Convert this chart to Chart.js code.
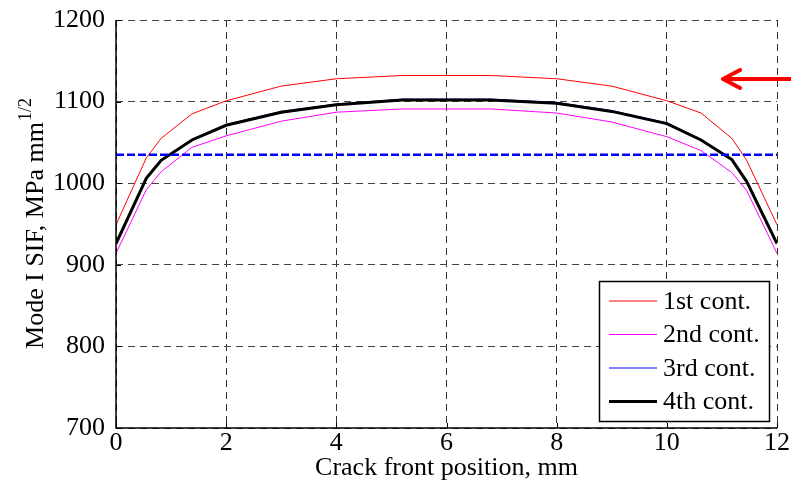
<!DOCTYPE html>
<html>
<head>
<meta charset="utf-8">
<script src="https://cdn.jsdelivr.net/npm/chart.js@4.4.1/dist/chart.umd.min.js"></script>
<style>
  html, body { margin: 0; padding: 0; background: #fff; }
  #wrap { width: 791px; height: 492px; }
</style>
</head>
<body>
<div id="wrap"><canvas id="chart" width="791" height="492"></canvas></div>
<script>
// crack front node positions, mm
const positions = [0, 0.55, 0.82, 1.38, 2, 3, 4, 5.2, 6, 6.8, 8, 9, 10, 10.62, 11.18, 11.45, 12];
// Mode I SIF for each contour, MPa mm^1/2
const cont1 = [949, 1031, 1055, 1085, 1101, 1119, 1128, 1132, 1132, 1132, 1128, 1119, 1101, 1086, 1055, 1028, 949];
const cont2 = [914, 992, 1014, 1044, 1058, 1076, 1087, 1091, 1091, 1091, 1086, 1075, 1057, 1040, 1013, 991, 914];
const cont3 = [926, 1006, 1028, 1054, 1072, 1088, 1097, 1103, 1103, 1103, 1099, 1089, 1074, 1054, 1029, 1002, 926];
const cont4 = [926, 1006, 1028, 1053, 1071, 1087, 1096, 1102, 1102, 1102, 1098, 1088, 1073, 1053, 1029, 1002, 926];
const refLevel = 1035;
const xTicks = [0, 2, 4, 6, 8, 10, 12];
const yTicks = [700, 800, 900, 1000, 1100, 1200];
const seriesNames = ['1st cont.', '2nd cont.', '3rd cont.', '4th cont.'];

const serif = "'Liberation Serif', 'Times New Roman', serif";
const pts = ys => positions.map((x, i) => ({ x: x, y: ys[i] }));

// solid axes, inward ticks, y title (with superscript), legend box and the red arrow
const extras = {
  id: 'extras',
  afterDraw(chart) {
    const ctx = chart.ctx;
    const area = chart.chartArea;
    const xs = chart.scales.x, ys = chart.scales.y;
    ctx.save();

    // left and bottom axis lines
    ctx.strokeStyle = '#000';
    ctx.lineWidth = 1.5;
    ctx.beginPath();
    ctx.moveTo(area.left, area.top);
    ctx.lineTo(area.left, area.bottom);
    ctx.lineTo(area.right, area.bottom);
    ctx.stroke();

    // inward tick marks
    ctx.lineWidth = 1;
    ctx.beginPath();
    xTicks.forEach(v => {
      const px = Math.round(xs.getPixelForValue(v)) + 0.5;
      ctx.moveTo(px, area.bottom);
      ctx.lineTo(px, area.bottom - 5);
    });
    yTicks.forEach(v => {
      const py = Math.round(ys.getPixelForValue(v)) + 0.5;
      ctx.moveTo(area.left, py);
      ctx.lineTo(area.left + 5, py);
    });
    ctx.stroke();

    // y axis title
    const main = 'Mode I SIF, MPa mm';
    const sup = '1/2';
    ctx.fillStyle = '#000';
    ctx.font = '26px ' + serif;
    const wMain = ctx.measureText(main).width;
    ctx.font = '18px ' + serif;
    const wSup = ctx.measureText(sup).width;
    const total = wMain + wSup;
    ctx.translate(43, (area.top + area.bottom) / 2);
    ctx.rotate(-Math.PI / 2);
    ctx.textBaseline = 'alphabetic';
    ctx.textAlign = 'left';
    ctx.font = '26px ' + serif;
    ctx.fillText(main, -total / 2, 0);
    ctx.font = '18px ' + serif;
    ctx.fillText(sup, -total / 2 + wMain + 1, -12);
    ctx.setTransform(1, 0, 0, 1, 0, 0);

    // legend
    const lx = 599.5, ly = 281.5, lw = 170, lh = 140;
    ctx.fillStyle = '#fff';
    ctx.fillRect(lx, ly, lw, lh);
    ctx.strokeStyle = '#000';
    ctx.lineWidth = 1.5;
    ctx.strokeRect(lx, ly, lw, lh);
    ctx.font = '26px ' + serif;
    ctx.textBaseline = 'middle';
    ctx.textAlign = 'left';
    seriesNames.forEach((name, i) => {
      const ds = chart.data.datasets[i];
      const rowY = 301 + i * 33.5;
      ctx.strokeStyle = ds.borderColor;
      ctx.lineWidth = ds.borderWidth;
      ctx.beginPath();
      ctx.moveTo(609, rowY);
      ctx.lineTo(657, rowY);
      ctx.stroke();
      ctx.fillStyle = '#000';
      ctx.fillText(name, 663, rowY + 1);
    });

    // red arrow pointing at the 1st contour
    ctx.strokeStyle = '#ff0000';
    ctx.lineWidth = 4;
    ctx.lineCap = 'round';
    ctx.lineJoin = 'round';
    ctx.beginPath();
    ctx.moveTo(792, 79);
    ctx.lineTo(723, 79);
    ctx.moveTo(740, 70);
    ctx.lineTo(723, 79);
    ctx.lineTo(740, 88);
    ctx.stroke();

    ctx.restore();
  }
};

new Chart(document.getElementById('chart'), {
  type: 'line',
  data: {
    datasets: [
      { label: seriesNames[0], data: pts(cont1), borderColor: '#ff0000', borderWidth: 1, pointRadius: 0, tension: 0, order: 4 },
      { label: seriesNames[1], data: pts(cont2), borderColor: '#ff00ff', borderWidth: 1, pointRadius: 0, tension: 0, order: 3 },
      { label: seriesNames[2], data: pts(cont3), borderColor: '#0000ff', borderWidth: 1, pointRadius: 0, tension: 0, order: 2 },
      { label: seriesNames[3], data: pts(cont4), borderColor: '#000000', borderWidth: 3, pointRadius: 0, tension: 0, order: 1 },
      { label: 'ref', data: [{ x: 0, y: refLevel }, { x: 12, y: refLevel }], borderColor: '#0000ff', borderWidth: 2.5, borderDash: [8, 3], pointRadius: 0, order: 0 }
    ]
  },
  options: {
    responsive: false,
    animation: false,
    layout: { padding: { left: 0, right: 14, top: 20, bottom: 0 } },
    plugins: {
      legend: { display: false },
      tooltip: { enabled: false }
    },
    scales: {
      x: {
        type: 'linear',
        min: 0,
        max: 12,
        afterFit: s => { s.height = 64; },
        afterBuildTicks: s => { s.ticks = xTicks.map(v => ({ value: v })); },
        grid: { color: '#333', lineWidth: 1, drawTicks: false },
        border: { display: false, dash: [7, 5] },
        ticks: { font: { family: serif, size: 26 }, color: '#000', padding: 0, maxRotation: 0, callback: v => String(v) },
        title: { display: true, text: 'Crack front position, mm', font: { family: serif, size: 26 }, color: '#000', padding: { top: 0, bottom: 8 } }
      },
      y: {
        min: 700,
        max: 1200,
        afterFit: s => { s.width = 116; s.paddingTop = 0; s.paddingBottom = 0; },
        afterBuildTicks: s => { s.ticks = yTicks.map(v => ({ value: v })); },
        grid: { color: '#444', lineWidth: 1, drawTicks: false },
        border: { display: false, dash: [7, 5] },
        ticks: { font: { family: serif, size: 26 }, color: '#000', padding: 11, callback: v => String(v) }
      }
    }
  },
  plugins: [extras]
});
</script>
</body>
</html>
